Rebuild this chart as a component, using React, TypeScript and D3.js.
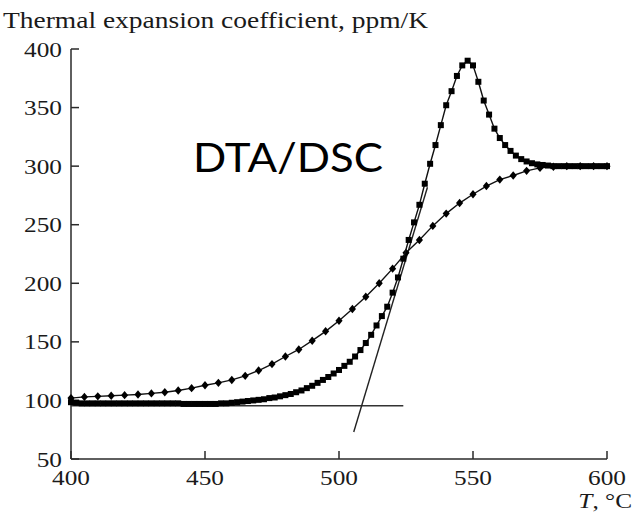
import React from "react";
import * as d3 from "d3";

const diamondT = [400,405,410,415,420,425,430,435,440,445,450,455,460,465,470,475,480,485,490,495,500,505,510,515,520,525,530,535,540,545,550,555,560,565,570,575,580,585,590,595,600];
const diamondV = [102,103,103.5,104,104.5,105,106,107,108.5,110.5,113,115,117.5,121,125.5,131,137.5,143.5,151,159,168,178,188.5,200,212.5,226,237,249,259.5,268.5,276,283,288.5,292,296,298.5,299.5,300,300,300,300];

const squareT = [400,402,404,406,408,410,412,414,416,418,420,422,424,426,428,430,432,434,436,438,440,442,444,446,448,450,452,454,456,458,460,462,464,466,468,470,472,474,476,478,480,482,484,486,488,490,492,494,496,498,500,502,504,506,508,510,512,514,516,518,520,522,524,526,528,530,532,534,536,538,540,542,544,546,548,550,552,554,556,558,560,562,564,566,568,570,572,574,576,578,580,582,584,586,588,590,592,594,596,598,600];
const squareV = [98.5,98,97.5,97.5,97.5,97.5,97.5,97.5,97.5,97.5,97.5,97.5,97.5,97.5,97.5,97.5,97.5,97.5,97.5,97.5,97.5,97,97,97,97,97,97,97,97.5,97.5,98,98.5,99,99.5,100,100.5,101,102,102.5,103.5,104.5,105.5,107,108.5,110.5,112.5,115,117.5,120,123,126,129.5,133,137.5,143,149,156,164,172,180,192,205,221,237,252,267,285,302,318,335,352,364,377,386,390,386,372,356,344,332,324,318,313,309,306,304,302.5,301.5,301,300.5,300,300,300,300,300,300,300,300,300,300,300];

const baselineT = [400, 524];
const baselineV = [95.5, 95.5];
const tangentT = [505.5, 533];
const tangentV = [73, 282];

const xTicks = [400, 450, 500, 550, 600];
const yTicks = [50, 100, 150, 200, 250, 300, 350, 400];

const yTitle = "Thermal expansion coefficient, ppm/K";
const annotation = "DTA/DSC";

const SERIF = "Liberation Serif, Times New Roman, Times, serif";
const SX = 1.15;

function SText({ x, y, anchor, size, children, italic }: any) {
  return (
    <g transform={`translate(${x},${y}) scale(${SX},1)`}>
      <text
        x={0}
        y={0}
        textAnchor={anchor}
        fontSize={size}
        fontFamily={SERIF}
        fontStyle={italic ? "italic" : "normal"}
        fill="#1a1a1a"
      >
        {children}
      </text>
    </g>
  );
}

export default function App() {
  const x = d3.scaleLinear().domain([400, 600]).range([71, 607]);
  const y = d3.scaleLinear().domain([50, 400]).range([459, 49]);

  const line = d3
    .line<[number, number]>()
    .x((d) => x(d[0]))
    .y((d) => y(d[1]));

  const diamonds: [number, number][] = diamondT.map((t, i) => [t, diamondV[i]]);
  const squares: [number, number][] = squareT.map((t, i) => [t, squareV[i]]);
  const base: [number, number][] = baselineT.map((t, i) => [t, baselineV[i]]);
  const tang: [number, number][] = tangentT.map((t, i) => [t, tangentV[i]]);

  const axisColor = "#2a2a2a";
  const tick = 8;

  return (
    <svg
      width={641}
      height={516}
      style={{ position: "absolute", left: 0, top: 0, background: "#fff" }}
    >
      <rect x={0} y={0} width={641} height={516} fill="#fff" />
      {/* axes */}
      <line x1={x(400)} x2={x(600)} y1={y(50)} y2={y(50)} stroke={axisColor} strokeWidth={1.5} />
      <line x1={x(400)} x2={x(400)} y1={y(50)} y2={y(400)} stroke={axisColor} strokeWidth={1.5} />
      {xTicks.map((t) => (
        <g key={"xt" + t}>
          <line x1={x(t)} x2={x(t)} y1={y(50)} y2={y(50) - tick} stroke={axisColor} strokeWidth={1.5} />
          <SText x={x(t)} y={485} anchor="middle" size={22}>
            {String(t)}
          </SText>
        </g>
      ))}
      {yTicks.map((v) => (
        <g key={"yt" + v}>
          <line x1={x(400)} x2={x(400) + tick} y1={y(v)} y2={y(v)} stroke={axisColor} strokeWidth={1.5} />
          <SText x={62} y={y(v) + 7.5} anchor="end" size={22}>
            {String(v)}
          </SText>
        </g>
      ))}

      {/* title */}
      <text
        x={3}
        y={28}
        fontSize={23}
        fontFamily={SERIF}
        textLength={425}
        lengthAdjust="spacingAndGlyphs"
        fill="#1a1a1a"
      >
        {yTitle}
      </text>

      {/* x axis label */}
      <g transform={`translate(632,508) scale(${SX},1)`}>
        <text
          x={0}
          y={0}
          textAnchor="end"
          fontSize={22}
          fontFamily={SERIF}
          fill="#1a1a1a"
        >
          <tspan fontStyle="italic">T</tspan>
          <tspan>, °C</tspan>
        </text>
      </g>

      {/* annotation */}
      <text
        x={193}
        y={172}
        fontSize={40}
        fontFamily="Lato, 'Open Sans', sans-serif"
        textLength={190}
        lengthAdjust="spacingAndGlyphs"
        fill="#000"
      >
        {annotation}
      </text>

      {/* construction lines */}
      <path d={line(base) || ""} fill="none" stroke="#333" strokeWidth={1.6} />
      <path d={line(tang) || ""} fill="none" stroke="#222" strokeWidth={1.4} />

      {/* diamonds series */}
      <path d={line(diamonds) || ""} fill="none" stroke="#111" strokeWidth={1.4} />
      {diamonds.map((d, i) => {
        const cx = x(d[0]);
        const cy = y(d[1]);
        const r = 4.2;
        return (
          <path
            key={"d" + i}
            d={`M${cx},${cy - r}L${cx + r * 0.85},${cy}L${cx},${cy + r}L${cx - r * 0.85},${cy}Z`}
            fill="#000"
          />
        );
      })}

      {/* squares series */}
      <path d={line(squares) || ""} fill="none" stroke="#111" strokeWidth={1.4} />
      {squares.map((d, i) => (
        <rect key={"s" + i} x={x(d[0]) - 3} y={y(d[1]) - 3} width={6} height={6} fill="#000" />
      ))}
    </svg>
  );
}
